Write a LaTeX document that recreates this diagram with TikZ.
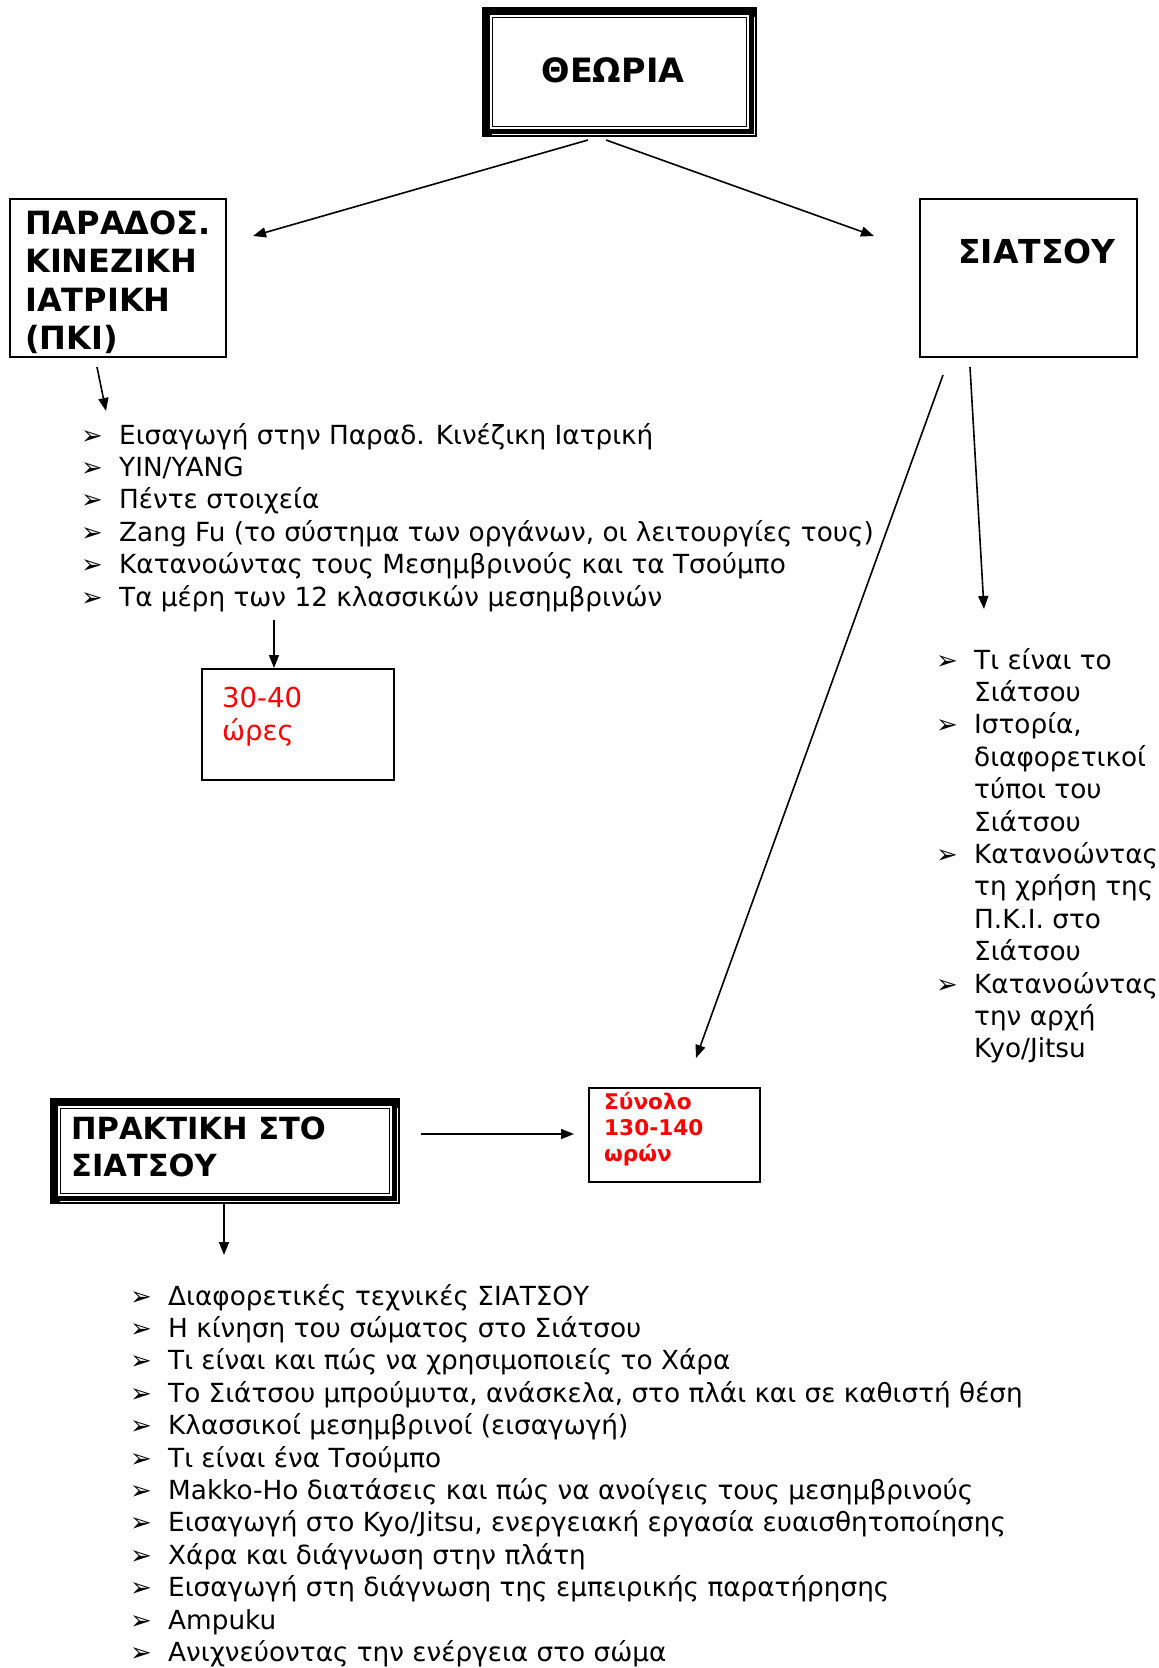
\documentclass[tikz,border=0pt]{standalone}
\usepackage{fontspec}
\setmainfont{DejaVu Sans}
\usetikzlibrary{arrows.meta,calc}
\newcommand\blt{\makebox[38pt][l]{\raisebox{0pt}{\fontsize{26}{26}\selectfont ➢}}}
\newcommand\nob{\makebox[38pt][l]{}}
\newcommand\dblframe[1]{%
  \fill[black] (#1.north west) rectangle (#1.south east);
  \fill[white] ($(#1.north west)+(8,8)$) rectangle ($(#1.south east)+(-8,-8)$);
  \draw[line width=1.4pt] ($(#1.north west)+(10.5,10.5)$) rectangle ($(#1.south east)+(-10.5,-10.5)$);
  \draw[white,line width=1.2pt] ($(#1.south west)+(10,-2.6)$) -- ($(#1.south east)+(-2.6,-2.6)$) -- ($(#1.north east)+(-2.6,10)$);
}
\tikzset{
  boxnode/.style={anchor=north west, inner sep=0, outer sep=0},
  thinbox/.style={boxnode, draw, line width=1.8pt},
  conn/.style={line width=1.6pt, -{Triangle[length=13pt,width=10pt]}},
  listtxt/.style={anchor=base west, inner sep=0, font=\fontsize{26.3}{30}\selectfont},
  headtxt/.style={anchor=base west, inner sep=0, font=\bfseries\fontsize{32}{36}\selectfont},
  redbig/.style={anchor=base west, inner sep=0, text=red, font=\fontsize{27.5}{30}\selectfont},
  redbold/.style={anchor=base west, inner sep=0, text=red, font=\bfseries\fontsize{21.6}{24}\selectfont},
}
\begin{document}
\begin{tikzpicture}[x=1pt,y=-1pt]
\useasboundingbox[fill=white] (0,0) rectangle (1159,1668);

% boxes
\node[boxnode, minimum width=275, minimum height=130] (T) at (482,7) {};
\dblframe{T}
\node[thinbox, minimum width=216, minimum height=158] (P) at (10,199) {};
\node[thinbox, minimum width=217, minimum height=158] (S) at (920,199) {};
\node[thinbox, minimum width=192, minimum height=111] (H) at (202,669) {};
\node[boxnode, minimum width=350, minimum height=106] (K) at (50,1098) {};
\dblframe{K}
\node[thinbox, minimum width=171, minimum height=94] (N) at (589,1088) {};

% box texts
\node[headtxt, anchor=base, font=\bfseries\fontsize{33.5}{36}\selectfont] (Tt) at (613,82) {ΘΕΩΡΙΑ};
\node[headtxt] (P1) at (25,234) {ΠΑΡΑΔΟΣ.};
\node[headtxt] (P2) at (25,272.5) {ΚΙΝΕΖΙΚΗ};
\node[headtxt] (P3) at (25,311) {ΙΑΤΡΙΚΗ};
\node[headtxt] (P4) at (25,349.5) {(ΠΚΙ)};
\node[headtxt, font=\bfseries\fontsize{33}{36}\selectfont] (St) at (958,263) {ΣΙΑΤΣΟΥ};
\node[headtxt, font=\bfseries\fontsize{30.5}{36}\selectfont] (K1) at (71,1139) {ΠΡΑΚΤΙΚΗ ΣΤΟ};
\node[headtxt, font=\bfseries\fontsize{30.5}{36}\selectfont] (K2) at (71,1176) {ΣΙΑΤΣΟΥ};
\node[redbig] (H1) at (222,707) {30-40};
\node[redbig] (H2) at (222,740) {ώρες};
\node[redbold] (N1) at (604,1109) {Σύνολο};
\node[redbold] (N2) at (604,1135) {130-140};
\node[redbold] (N3) at (604,1161) {ωρών};

% left list
\foreach \t [count=\i] in {{Εισαγωγή στην Παραδ. Κινέζικη Ιατρική},{YIN/YANG},{Πέντε στοιχεία},{Zang Fu (το σύστημα των οργάνων, οι λειτουργίες τους)},{Κατανοώντας τους Μεσημβρινούς και τα Τσούμπο},{Τα μέρη των 12 κλασσικών μεσημβρινών}}
  \node[listtxt] (A\i) at (81,{444+32.4*(\i-1)}) {\blt\t};

% right list
\foreach \b/\t [count=\i] in {1/{Τι είναι το},0/{Σιάτσου},1/{Ιστορία,},0/{διαφορετικοί},0/{τύποι του},0/{Σιάτσου},1/{Κατανοώντας},0/{τη χρήση της},0/{Π.Κ.Ι. στο},0/{Σιάτσου},1/{Κατανοώντας},0/{την αρχή},0/{Kyo/Jitsu}}
  \node[listtxt] (R\i) at (936,{669+32.4*(\i-1)}) {\ifnum\b=1 \blt\else\nob\fi\t};

% bottom list
\foreach \t [count=\i] in {{Διαφορετικές τεχνικές ΣΙΑΤΣΟΥ},{Η κίνηση του σώματος στο Σιάτσου},{Τι είναι και πώς να χρησιμοποιείς το Χάρα},{Το Σιάτσου μπρούμυτα, ανάσκελα, στο πλάι και σε καθιστή θέση},{Κλασσικοί μεσημβρινοί (εισαγωγή)},{Τι είναι ένα Τσούμπο},{Makko-Ho διατάσεις και πώς να ανοίγεις τους μεσημβρινούς},{Εισαγωγή στο Kyo/Jitsu, ενεργειακή εργασία ευαισθητοποίησης},{Χάρα και διάγνωση στην πλάτη},{Εισαγωγή στη διάγνωση της εμπειρικής παρατήρησης},{Ampuku},{Ανιχνεύοντας την ενέργεια στο σώμα}}
  \node[listtxt] (B\i) at (130,{1305+32.4*(\i-1)}) {\blt\t};

% connector end points
\coordinate (c1s) at (588,140); \coordinate (c1e) at (253,236);
\coordinate (c2s) at (606,140); \coordinate (c2e) at (874,236);
\coordinate (c3s) at (97,367);  \coordinate (c3e) at (106,411);
\coordinate (c4s) at (274,620); \coordinate (c4e) at (274,668);
\coordinate (c5s) at (970,367); \coordinate (c5e) at (984,609);
\coordinate (c6s) at (943,375); \coordinate (c6e) at (696,1058);
\coordinate (c7s) at (421,1134); \coordinate (c7e) at (574,1134);
\coordinate (c8s) at (224,1204); \coordinate (c8e) at (224,1255);

\draw[conn] (c1s) -- (c1e);
\draw[conn] (c2s) -- (c2e);
\draw[conn] (c3s) -- (c3e);
\draw[conn] (c4s) -- (c4e);
\draw[conn] (c5s) -- (c5e);
\draw[conn] (c6s) -- (c6e);
\draw[conn] (c7s) -- (c7e);
\draw[conn] (c8s) -- (c8e);
\end{tikzpicture}
\end{document}
